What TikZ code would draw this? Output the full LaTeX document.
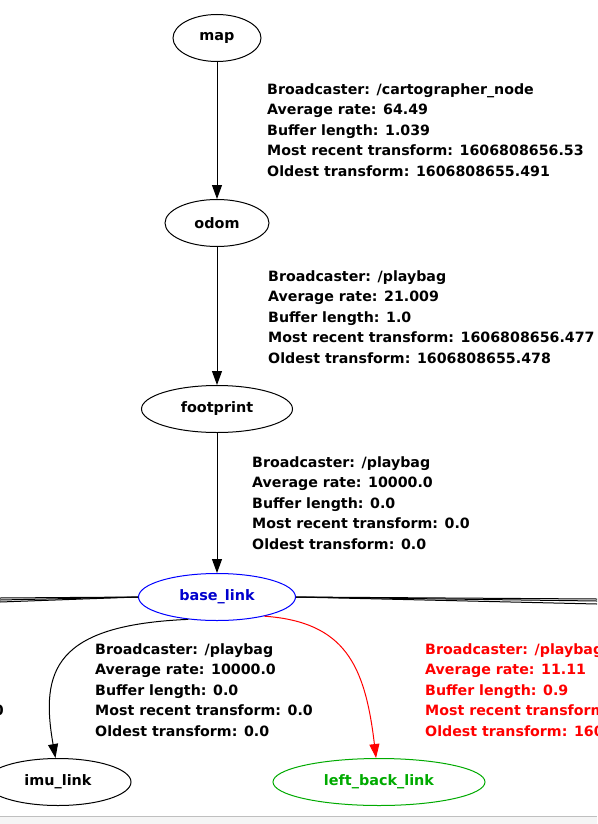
\documentclass[tikz,border=0pt]{standalone}
\usepackage{fontspec}
\setmainfont{DejaVu Sans}
\usetikzlibrary{shapes.geometric,arrows.meta}

\definecolor{linkblue}{RGB}{0,0,205}
\definecolor{linkgreen}{RGB}{0,170,0}
\newcommand{\framefont}{\fontsize{14.4}{16}\selectfont\bfseries}
\newcommand{\infofont}{\fontsize{14.2}{20.5}\selectfont\bfseries}

\tikzset{
  frame/.style={draw,ellipse,line width=1pt,inner sep=0pt,minimum height=47pt,font=\framefont},
  tfedge/.style={line width=1pt,-{Triangle[length=14pt,width=10pt]}},
  info/.style={anchor=west,align=left,inner sep=0pt,font=\infofont}
}

\begin{document}
\begin{tikzpicture}[x=1pt,y=-1pt]
  % Page
  \useasboundingbox (0,0) rectangle (597,824);
  \fill[black!4] (0,817) rectangle (597,824);
  \draw[black!25] (0,816.5) -- (597,816.5);

  % Frames
  \node[frame,minimum width=88pt] (map) at (217,38) {map};
  \node[frame,minimum width=104pt] (odom) at (217,223) {odom};
  \node[frame,minimum width=151pt] (footprint) at (217,409) {footprint};
  \node[frame,draw=blue,text=linkblue,minimum width=157pt] (base_link) at (217,597) {base\_link};
  \node[frame,minimum width=146pt] (imu_link) at (58,782) {imu\_link};
  \node[frame,draw=linkgreen,text=linkgreen,minimum width=212pt] (left_back_link) at (379,782) {left\_back\_link};

  % Edges
  \draw[tfedge] (map) -- (odom);
  \draw[tfedge] (odom) -- (footprint);
  \draw[tfedge] (footprint) -- (base_link);
  \draw[tfedge] (base_link.218) .. controls (55,625) and (40,670) .. (imu_link.96);
  \draw[tfedge,red] (base_link.-22) .. controls (345,622) and (365,665) .. (left_back_link.97);

  % Edges leaving the page
  \coordinate (left1) at (0,598);
  \coordinate (left2) at (0,600);
  \coordinate (left3) at (0,602);
  \coordinate (right1) at (597,599);
  \coordinate (right2) at (597,601);
  \coordinate (right3) at (597,604);
  \foreach \n in {left1,left2,left3}
    \draw[line width=1pt] (base_link.west) -- (\n);
  \foreach \n in {right1,right2,right3}
    \draw[line width=1pt] (base_link.east) -- (\n);

  % Transform info
  \node[info] (info_map) at (267,130) {Broadcaster: /cartographer\_node\\Average rate: 64.49\\Buffer length: 1.039\\Most recent transform: 1606808656.53\\Oldest transform: 1606808655.491};
  \node[info] (info_odom) at (268,317) {Broadcaster: /playbag\\Average rate: 21.009\\Buffer length: 1.0\\Most recent transform: 1606808656.477\\Oldest transform: 1606808655.478};
  \node[info] (info_footprint) at (252,503) {Broadcaster: /playbag\\Average rate: 10000.0\\Buffer length: 0.0\\Most recent transform: 0.0\\Oldest transform: 0.0};
  \node[info] (info_imu) at (95,690) {Broadcaster: /playbag\\Average rate: 10000.0\\Buffer length: 0.0\\Most recent transform: 0.0\\Oldest transform: 0.0};
  \node[info,text=red] (info_back) at (425,690) {Broadcaster: /playbag\\Average rate: 11.11\\Buffer length: 0.9\\Most recent transform\\Oldest transform: 160};
  \node[info,anchor=east] (info_cut) at (4,710) {0};
\end{tikzpicture}
\end{document}
